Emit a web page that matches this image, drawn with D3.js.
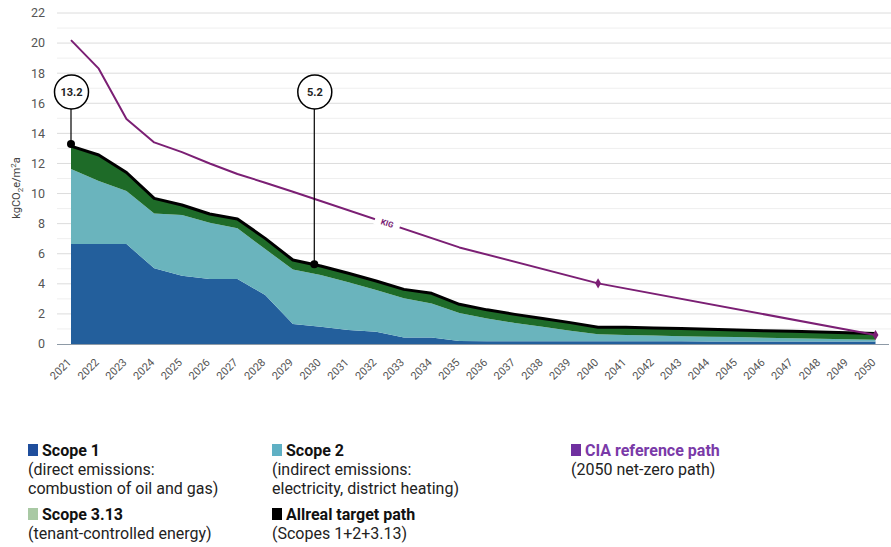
<!DOCTYPE html>
<html><head><meta charset="utf-8">
<script src="https://cdn.jsdelivr.net/npm/d3@7"></script>
<style>
html,body{margin:0;padding:0;background:#fff;}
svg{display:block;font-family:Roboto, "Noto Sans", sans-serif;}
</style></head>
<body>
<svg id="chart" width="891" height="547"></svg>
<script>
const years = d3.range(2021, 2051);
const scope1 = [6.64,6.64,6.64,5.03,4.54,4.32,4.32,3.26,1.33,1.15,0.93,0.82,0.44,0.44,0.20,0.19,0.19,0.19,0.19,0.18,0.18,0.18,0.18,0.17,0.17,0.17,0.17,0.16,0.16,0.16];
const scope2 = [4.99,4.19,3.53,3.65,4.03,3.74,3.37,3.05,3.63,3.43,3.17,2.77,2.60,2.26,1.86,1.51,1.21,0.95,0.69,0.46,0.42,0.38,0.34,0.32,0.29,0.25,0.22,0.19,0.16,0.12];
const scope313 = [1.52,1.73,1.23,1.00,0.67,0.58,0.62,0.71,0.62,0.60,0.60,0.60,0.59,0.67,0.58,0.57,0.57,0.56,0.54,0.48,0.52,0.51,0.51,0.49,0.47,0.46,0.45,0.44,0.43,0.42];
const ciaPath = [20.2,18.3,14.95,13.4,12.75,12.0,11.3,10.72,10.12,9.5,null,null,null,null,6.42,null,null,null,null,4.03,null,null,null,null,null,null,null,null,null,0.6];
const ciaMarkers = [2040, 2050];
const callouts = [{year:2021, value:13.3, label:"13.2"},{year:2029.77, value:5.3, label:"5.2"}];
const yTicks = d3.range(0, 23, 2);
const legendItems = [
  {name:"Scope 1", lines:["(direct emissions:","combustion of oil and gas)"], color:"#1f4e9c", col:0, row:0},
  {name:"Scope 2", lines:["(indirect emissions:","electricity, district heating)"], color:"#5fb0c4", col:1, row:0},
  {name:"CIA reference path", lines:["(2050 net-zero path)"], color:"#7030a0", col:2, row:0, textColor:"#7a3aa8"},
  {name:"Scope 3.13", lines:["(tenant-controlled energy)"], color:"#a9c9a4", col:0, row:1},
  {name:"Allreal target path", lines:["(Scopes 1+2+3.13)"], color:"#000000", col:1, row:1}
];

const svg = d3.select("#chart");
const x = d3.scaleLinear().domain([2021, 2050]).range([71, 875.5]);
const y = d3.scaleLinear().domain([0, 22]).range([344, 13]);

// grid
const g = svg.append("g");
g.selectAll("line.minor").data(d3.range(1, 22, 2)).join("line")
  .attr("x1", 57).attr("x2", 891).attr("y1", d=>y(d)).attr("y2", d=>y(d))
  .attr("stroke", "#efefef").attr("stroke-width", 1);
g.selectAll("line.major").data(yTicks.filter(d=>d>0)).join("line")
  .attr("x1", 57).attr("x2", 891).attr("y1", d=>y(d)).attr("y2", d=>y(d))
  .attr("stroke", "#dcdcdc").attr("stroke-width", 1);

// y labels
svg.append("g").selectAll("text").data(yTicks).join("text")
  .attr("x", 45).attr("y", d=>y(d)).attr("dy", "0.35em")
  .attr("text-anchor", "end").attr("font-size", 12.5).attr("fill", "#555")
  .text(d=>d);

// y title
const yt = svg.append("text").attr("transform", "translate(20,188) rotate(-90)")
  .attr("text-anchor", "middle").attr("font-size", 11).attr("fill", "#444");
yt.append("tspan").text("kgCO");
yt.append("tspan").attr("font-size", 8).attr("dy", 3).text("2");
yt.append("tspan").attr("dy", -3).text("e/m");
yt.append("tspan").attr("font-size", 8).attr("dy", -4).text("2");
yt.append("tspan").attr("dy", 4).text("a");

// stacked areas
const rows = years.map((yr,i)=>({year:yr, s1:scope1[i], s2:scope2[i], s3:scope313[i]}));
const stack = d3.stack().keys(["s1","s2","s3"]);
const series = stack(rows);
const colors = {s1:"#235f9c", s2:"#6ab4bd", s3:"#1e6b28"};
const area = d3.area().x(d=>x(d.data.year)).y0(d=>y(d[0])).y1(d=>y(d[1]));
svg.append("g").selectAll("path").data(series).join("path")
  .attr("d", area).attr("fill", d=>colors[d.key]);

// total line
const line = d3.line().x(d=>x(d.year)).y(d=>y(d.s1+d.s2+d.s3));
svg.append("path").datum(rows).attr("d", line)
  .attr("fill","none").attr("stroke","#000").attr("stroke-width",3).attr("stroke-linejoin","round");

// x axis line
svg.append("line").attr("x1",57).attr("x2",889).attr("y1",344.5).attr("y2",344.5)
  .attr("stroke","#8e9aa6").attr("stroke-width",1.2);

// x labels
svg.append("g").selectAll("text").data(years).join("text")
  .attr("transform", d=>`translate(${x(d)+1},363) rotate(-45)`)
  .attr("text-anchor","end").attr("font-size",11).attr("fill","#555")
  .text(d=>d);

// CIA path
const ciaPts = years.map((yr,i)=>({year:yr, v:ciaPath[i]})).filter(d=>d.v!==null);
const ciaLine = d3.line().x(d=>x(d.year)).y(d=>y(d.v));
svg.append("path").datum(ciaPts).attr("d", ciaLine)
  .attr("fill","none").attr("stroke","#7b1f74").attr("stroke-width",2).attr("stroke-linejoin","round");
svg.append("g").selectAll("path").data(ciaPts.filter(d=>ciaMarkers.includes(d.year))).join("path")
  .attr("d", d3.symbol().type(d3.symbolDiamond).size(30))
  .attr("transform", d=>`translate(${x(d.year)},${y(d.v)})`)
  .attr("fill","#7b1f74");

// KIG label
const p0 = ciaPts.find(d=>d.year===2030), p1 = ciaPts.find(d=>d.year===2035);
const t = 0.48;
const kx = x(p0.year) + t*(x(p1.year)-x(p0.year));
const ky = y(p0.v) + t*(y(p1.v)-y(p0.v));
const ang = Math.atan2(y(p1.v)-y(p0.v), x(p1.year)-x(p0.year))*180/Math.PI;
const kg = svg.append("g").attr("transform",`translate(${kx},${ky}) rotate(${ang})`);
kg.append("rect").attr("x",-13).attr("y",-5).attr("width",26).attr("height",10).attr("fill","#fff");
kg.append("text").attr("text-anchor","middle").attr("dy","0.35em").attr("font-size",8)
  .attr("font-weight","bold").attr("fill","#7b1f74").text("KIG");

// callouts
const cy = 92, r = 17;
callouts.forEach(c=>{
  const cx = x(c.year);
  svg.append("line").attr("x1",cx).attr("x2",cx).attr("y1",cy+r).attr("y2",y(c.value))
    .attr("stroke","#000").attr("stroke-width",1.2);
  svg.append("circle").attr("cx",cx).attr("cy",y(c.value)).attr("r",4).attr("fill","#000");
  svg.append("circle").attr("cx",cx+0.5).attr("cy",cy).attr("r",r).attr("fill","#fff")
    .attr("stroke","#000").attr("stroke-width",1.5);
  svg.append("text").attr("x",cx+0.5).attr("y",cy).attr("dy","0.35em").attr("text-anchor","middle")
    .attr("font-size",11).attr("font-weight","bold").attr("fill","#222").text(c.label);
});

// legend
const colX = [28, 272, 571], rowY = [456, 520];
const lg = svg.append("g");
legendItems.forEach(it=>{
  const gx = colX[it.col], gy = rowY[it.row];
  lg.append("rect").attr("x",gx).attr("y",gy-12).attr("width",10).attr("height",12).attr("fill",it.color);
  lg.append("text").attr("x",gx+14).attr("y",gy).attr("font-size",16).attr("font-weight","bold")
    .attr("fill",it.textColor||"#111").text(it.name);
  it.lines.forEach((l,j)=>{
    lg.append("text").attr("x",gx).attr("y",gy+19*(j+1)).attr("font-size",16).attr("fill","#222").text(l);
  });
});
</script>
</body></html>
